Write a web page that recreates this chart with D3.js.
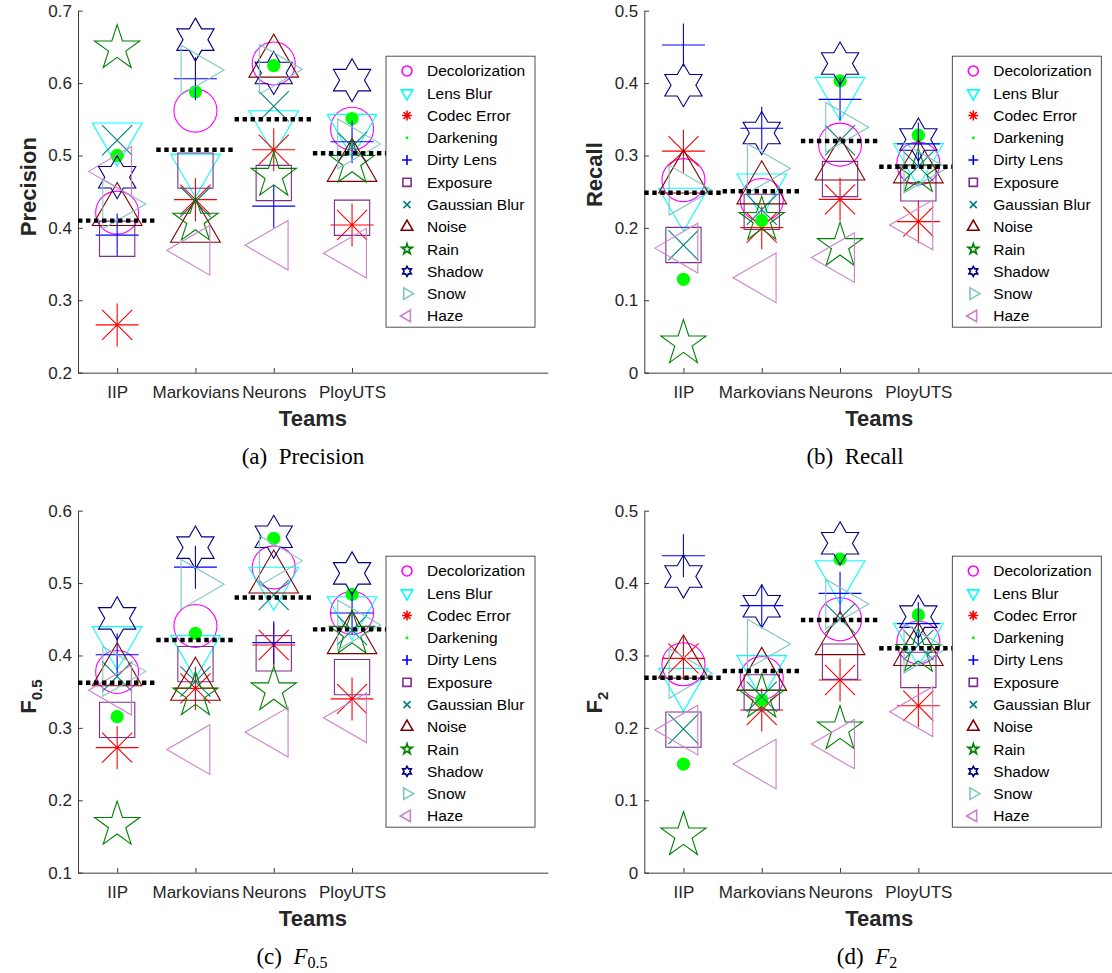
<!DOCTYPE html>
<html>
<head>
<meta charset="utf-8">
<script src="https://cdn.jsdelivr.net/npm/d3@7"></script>
<style>
  body { margin: 0; background: #fff; }
  svg { display: block; font-family: "Liberation Sans", Arial, sans-serif; }
</style>
</head>
<body>
<svg id="fig" width="1112" height="973"></svg>
<script>
// ---- data -------------------------------------------------------------
const teams = ["IIP", "Markovians", "Neurons", "PloyUTS"];
const conditions = ["Decolorization", "Lens Blur", "Codec Error", "Darkening", "Dirty Lens",
  "Exposure", "Gaussian Blur", "Noise", "Rain", "Shadow", "Snow", "Haze"];
const markerShapes = ["circle", "triDown", "asterisk", "dot", "plus", "square",
  "cross", "triUp", "pentagram", "hexagram", "triRight", "triLeft"];
const markerColors = ["#ff00ff", "#00ffff", "#ff0000", "#00ff00", "#0000ff", "#7e2f8e",
  "#008080", "#800000", "#008000", "#000080", "#80c4c4", "#cc80cc"];

// rows follow `conditions`, columns follow `teams`
const precision = [
  [0.421, 0.562, 0.627, 0.537],
  [0.525, 0.482, 0.542, 0.537],
  [0.266, 0.439, 0.508, 0.404],
  [0.500, 0.588, 0.624, 0.551],
  [0.390, 0.606, 0.430, 0.519],
  [0.385, 0.479, 0.462, 0.414],
  [0.521, 0.436, 0.568, 0.512],
  [0.423, 0.400, 0.628, 0.484],
  [0.648, 0.410, 0.472, 0.490],
  [0.470, 0.660, 0.614, 0.604],
  [0.433, 0.618, 0.619, 0.516],
  [0.478, 0.369, 0.376, 0.365]
];
const precisionOverall = [0.410, 0.508, 0.550, 0.503];

const recall = [
  [0.266, 0.2385, 0.315, 0.289],
  [0.235, 0.2546, 0.388, 0.2965],
  [0.306, 0.2003, 0.2394, 0.2086],
  [0.129, 0.210, 0.403, 0.328],
  [0.4526, 0.3375, 0.3775, 0.316],
  [0.1763, 0.222, 0.2675, 0.2615],
  [0.176, 0.225, 0.321, 0.285],
  [0.268, 0.253, 0.2859, 0.282],
  [0.0405, 0.211, 0.175, 0.277],
  [0.397, 0.331, 0.427, 0.322],
  [0.252, 0.282, 0.339, 0.2827],
  [0.172, 0.131, 0.159, 0.204]
];
const recallOverall = [0.2486, 0.2505, 0.320, 0.2845];

const f05 = [
  [0.3772, 0.4407, 0.5217, 0.4587],
  [0.420, 0.4076, 0.502, 0.4614],
  [0.2727, 0.3546, 0.4145, 0.340],
  [0.3155, 0.4306, 0.5618, 0.4844],
  [0.401, 0.522, 0.4177, 0.4587],
  [0.311, 0.388, 0.403, 0.370],
  [0.371, 0.364, 0.4835, 0.435],
  [0.378, 0.358, 0.506, 0.4223],
  [0.166, 0.345, 0.352, 0.430],
  [0.4513, 0.549, 0.564, 0.5134],
  [0.378, 0.4983, 0.531, 0.4421],
  [0.352, 0.270, 0.294, 0.314]
];
const f05Overall = [0.3624, 0.4214, 0.480, 0.436];

const f2 = [
  [0.2878, 0.2689, 0.350, 0.318],
  [0.2624, 0.280, 0.4111, 0.3247],
  [0.296, 0.2247, 0.2661, 0.2306],
  [0.150, 0.2385, 0.4332, 0.356],
  [0.4378, 0.3688, 0.3858, 0.344],
  [0.1975, 0.249, 0.2914, 0.280],
  [0.1984, 0.243, 0.3513, 0.3145],
  [0.2887, 0.2716, 0.321, 0.306],
  [0.0516, 0.242, 0.198, 0.305],
  [0.409, 0.368, 0.455, 0.3536],
  [0.2753, 0.3158, 0.3711, 0.310],
  [0.197, 0.150, 0.1777, 0.2224]
];
const f2Overall = [0.2693, 0.2786, 0.349, 0.310];

const precisionTicks = [0.2, 0.3, 0.4, 0.5, 0.6, 0.7];
const recallTicks = [0, 0.1, 0.2, 0.3, 0.4, 0.5];
const f05Ticks = [0.1, 0.2, 0.3, 0.4, 0.5, 0.6];
const f2Ticks = [0, 0.1, 0.2, 0.3, 0.4, 0.5];

// ---- layout -----------------------------------------------------------
const plotW = 469.8, plotH = 362;
const TEXT = "#262626";
const panels = [
  { values: precision, overall: precisionOverall, ticks: precisionTicks,
    left: 78, top: 10.67, ylabel: ["Precision"], ylabelY: 176, capX: 303, capTag: "(a)", capName: ["Precision"] },
  { values: recall, overall: recallOverall, ticks: recallTicks,
    left: 644.3, top: 10.67, ylabel: ["Recall"], ylabelY: 164, capX: 855, capTag: "(b)", capName: ["Recall"] },
  { values: f05, overall: f05Overall, ticks: f05Ticks,
    left: 78, top: 510.67, ylabel: ["F", "0.5"], ylabelY: 186, capX: 292, capTag: "(c)", capName: ["F", "0.5"] },
  { values: f2, overall: f2Overall, ticks: f2Ticks,
    left: 644.3, top: 510.67, ylabel: ["F", "2"], ylabelY: 192, capX: 867, capTag: "(d)", capName: ["F", "2"] }
];

// ---- marker outlines (S = nominal marker size in px) ------------------
function markerPath(shape, S) {
  const p = d3.path();
  const poly = pts => { pts.forEach((q, i) => i ? p.lineTo(q[0], q[1]) : p.moveTo(q[0], q[1])); p.closePath(); };
  const s3 = Math.sqrt(3) / 2;
  if (shape === "circle") { p.arc(0, 0, S / 2, 0, 2 * Math.PI); p.closePath(); }
  else if (shape === "dot") { p.arc(0, 0, S / 6.5, 0, 2 * Math.PI); p.closePath(); }
  else if (shape === "square") { const h = S * 0.41; poly([[-h, -h], [h, -h], [h, h], [-h, h]]); }
  else if (shape === "triUp") { const R = S / 1.5; poly([[0, -R], [R * s3, R / 2], [-R * s3, R / 2]]); }
  else if (shape === "triDown") { const R = S / 1.5; poly([[0, R], [R * s3, -R / 2], [-R * s3, -R / 2]]); }
  else if (shape === "triRight") { const R = S / 1.5; poly([[R, 0], [-R / 2, R * s3], [-R / 2, -R * s3]]); }
  else if (shape === "triLeft") { const R = S / 1.5; poly([[-R, 0], [R / 2, R * s3], [R / 2, -R * s3]]); }
  else if (shape === "pentagram") {
    const R = S / 1.809, r = R * 0.382, pts = [];
    for (let k = 0; k < 10; k++) {
      const a = -Math.PI / 2 + k * Math.PI / 5, rr = k % 2 ? r : R;
      pts.push([rr * Math.cos(a), rr * Math.sin(a)]);
    }
    poly(pts);
  } else if (shape === "hexagram") {
    const R = S / 2, r = R / Math.sqrt(3), pts = [];
    for (let k = 0; k < 12; k++) {
      const a = -Math.PI / 2 + k * Math.PI / 6, rr = k % 2 ? r : R;
      pts.push([rr * Math.cos(a), rr * Math.sin(a)]);
    }
    poly(pts);
  } else {
    const h = S / 2, d = S * 0.35;
    if (shape === "plus" || shape === "asterisk") {
      p.moveTo(-h, 0); p.lineTo(h, 0); p.moveTo(0, -h); p.lineTo(0, h);
    }
    if (shape === "cross" || shape === "asterisk") {
      p.moveTo(-d, -d); p.lineTo(d, d); p.moveTo(-d, d); p.lineTo(d, -d);
    }
  }
  return p.toString();
}

// ---- drawing ----------------------------------------------------------
const svg = d3.select("#fig");
const x = d3.scaleLinear().domain([0.5, 6.5]).range([0, plotW]);
const MS = 43, LEG_MS = 10;

panels.forEach(pn => {
  const y = d3.scaleLinear().domain([pn.ticks[0], pn.ticks[pn.ticks.length - 1]]).range([plotH, 0]);
  const g = svg.append("g").attr("transform", `translate(${pn.left},${pn.top})`);

  // axes
  const yAxis = d3.axisLeft(y).tickValues(pn.ticks)
    .tickFormat(d => d === 0 ? "0" : d3.format(".1f")(d))
    .tickSizeInner(-4.7).tickSizeOuter(0).tickPadding(6);
  const xAxis = d3.axisBottom(x).tickValues([1, 2, 3, 4])
    .tickFormat(d => teams[d - 1])
    .tickSizeInner(-4.7).tickSizeOuter(0).tickPadding(13);
  g.append("g").call(yAxis);
  g.append("g").attr("transform", `translate(0,${plotH})`).call(xAxis);
  g.selectAll(".tick text").attr("font-size", 17).attr("font-family", "Liberation Sans, Arial, sans-serif").attr("fill", TEXT);
  g.selectAll(".domain, .tick line").attr("stroke", TEXT).attr("stroke-width", 0.9);

  // markers, one group per condition
  conditions.forEach((c, ci) => {
    const pts = pn.values[ci].map((v, ti) => ({ t: ti + 1, v }));
    const filled = markerShapes[ci] === "dot";
    g.append("g").selectAll("path").data(pts).join("path")
      .attr("transform", d => `translate(${x(d.t)},${y(d.v)})`)
      .attr("d", markerPath(markerShapes[ci], MS))
      .attr("fill", filled ? markerColors[ci] : "none")
      .attr("stroke", filled ? "none" : markerColors[ci])
      .attr("stroke-width", 1.1);
  });

  // overall score per team (dotted)
  const seg = d3.line().x(d => x(d[0])).y(d => y(d[1]));
  g.append("g").selectAll("path").data(pn.overall).join("path")
    .attr("d", (m, i) => seg([[i + 0.5, m], [i + 1.5, m]]))
    .attr("stroke", "#000").attr("stroke-width", 4.4)
    .attr("stroke-dasharray", "4.4 3.6").attr("fill", "none");

  // legend
  const lg = g.append("g").attr("transform", "translate(308,45.5)");
  lg.append("rect").attr("width", 149).attr("height", 271)
    .attr("fill", "#fff").attr("stroke", TEXT).attr("stroke-width", 0.8);
  const rows = lg.selectAll("g.row").data(conditions).join("g").attr("class", "row")
    .attr("transform", (d, i) => `translate(0,${14.8 + i * 22.27})`);
  rows.append("path")
    .attr("transform", "translate(21,0)")
    .attr("d", (d, i) => markerPath(markerShapes[i], LEG_MS))
    .attr("fill", (d, i) => markerShapes[i] === "dot" ? markerColors[i] : "none")
    .attr("stroke", (d, i) => markerShapes[i] === "dot" ? "none" : markerColors[i])
    .attr("stroke-width", 1.6);
  rows.append("text").attr("x", 41).attr("dy", "0.35em")
    .attr("font-size", 15.5).attr("fill", "#000").text(d => d);

  // axis titles
  g.append("text").attr("x", plotW / 2).attr("y", plotH + 53.5)
    .attr("text-anchor", "middle").attr("font-size", 22).attr("font-weight", "bold")
    .attr("fill", TEXT).text("Teams");
  const yl = g.append("text")
    .attr("transform", `translate(-42,${pn.ylabelY}) rotate(-90)`)
    .attr("text-anchor", "middle").attr("font-size", 22).attr("font-weight", "bold").attr("fill", TEXT);
  yl.append("tspan").text(pn.ylabel[0]);
  if (pn.ylabel[1]) yl.append("tspan").attr("font-size", 15).attr("dy", 6).text(pn.ylabel[1]);

  // sub-caption
  const cap = svg.append("text").attr("x", pn.capX).attr("y", pn.top + plotH + 91.5)
    .attr("text-anchor", "middle").attr("font-family", "Liberation Serif, Times New Roman, serif")
    .attr("font-size", 23).attr("fill", "#000");
  cap.append("tspan").text(pn.capTag + "\u2002");
  if (pn.capName[1]) {
    cap.append("tspan").attr("font-style", "italic").text(pn.capName[0]);
    cap.append("tspan").attr("font-size", 16).attr("dy", 4).text(pn.capName[1]);
  } else {
    cap.append("tspan").text(pn.capName[0]);
  }
});
</script>
</body>
</html>
